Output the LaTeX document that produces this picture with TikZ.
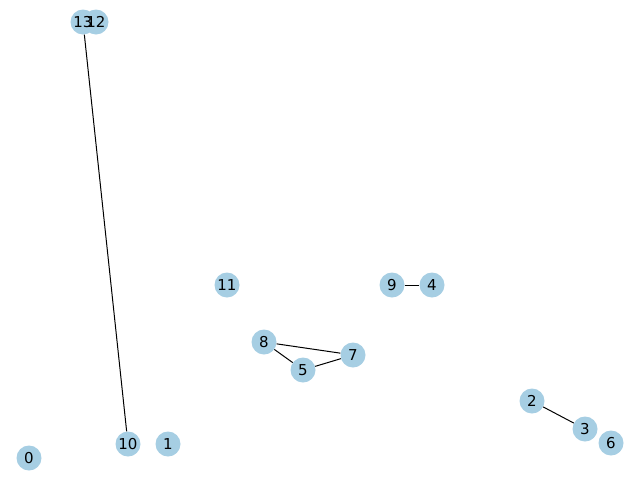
\documentclass[tikz,border=0pt]{standalone}
\usepackage{fontspec}
\setmainfont{DejaVu Sans}
\usepackage{xcolor}
\usepackage{tikz}
\usetikzlibrary{positioning,calc}
\definecolor{nodeblue}{RGB}{166,206,227}
\tikzset{
    vertex/.style={circle, fill=nodeblue, minimum size=25pt, inner sep=0pt},
    vlabel/.style={inner sep=0pt, font=\fontsize{15}{18}\selectfont},
    edge/.style={line width=1pt, black}
}

\begin{document}
\begin{tikzpicture}[x=1pt, y=-1pt]
    \useasboundingbox (0,0) rectangle (640,480);

    % vertices
    \node[vertex] (v0) at (29,458) {};
    \node[vertex] (v1) at (168,444) {};
    \node[vertex] (v2) at (532,401) {};
    \node[vertex] (v3) at (585,429) {};
    \node[vertex] (v4) at (432,285) {};
    \node[vertex] (v5) at (303,370) {};
    \node[vertex] (v6) at (611,443) {};
    \node[vertex] (v7) at (353,355) {};
    \node[vertex] (v8) at (264,342) {};
    \node[vertex] (v9) at (392,285) {};
    \node[vertex] (v10) at (128,444) {};
    \node[vertex] (v11) at (227,285) {};
    \node[vertex] (v12) at (96,22) {};
    \node[vertex] (v13) at (83,22) {};

    % labels on top of all circles
    \foreach \i in {0,...,13}
        \node[vlabel] (l\i) at (v\i) {\i};

    % edges
    \draw[edge] (v13) -- (v10);
    \draw[edge] (v9) -- (v4);
    \draw[edge] (v8) -- (v7);
    \draw[edge] (v8) -- (v5);
    \draw[edge] (v5) -- (v7);
    \draw[edge] (v2) -- (v3);
\end{tikzpicture}
\end{document}
